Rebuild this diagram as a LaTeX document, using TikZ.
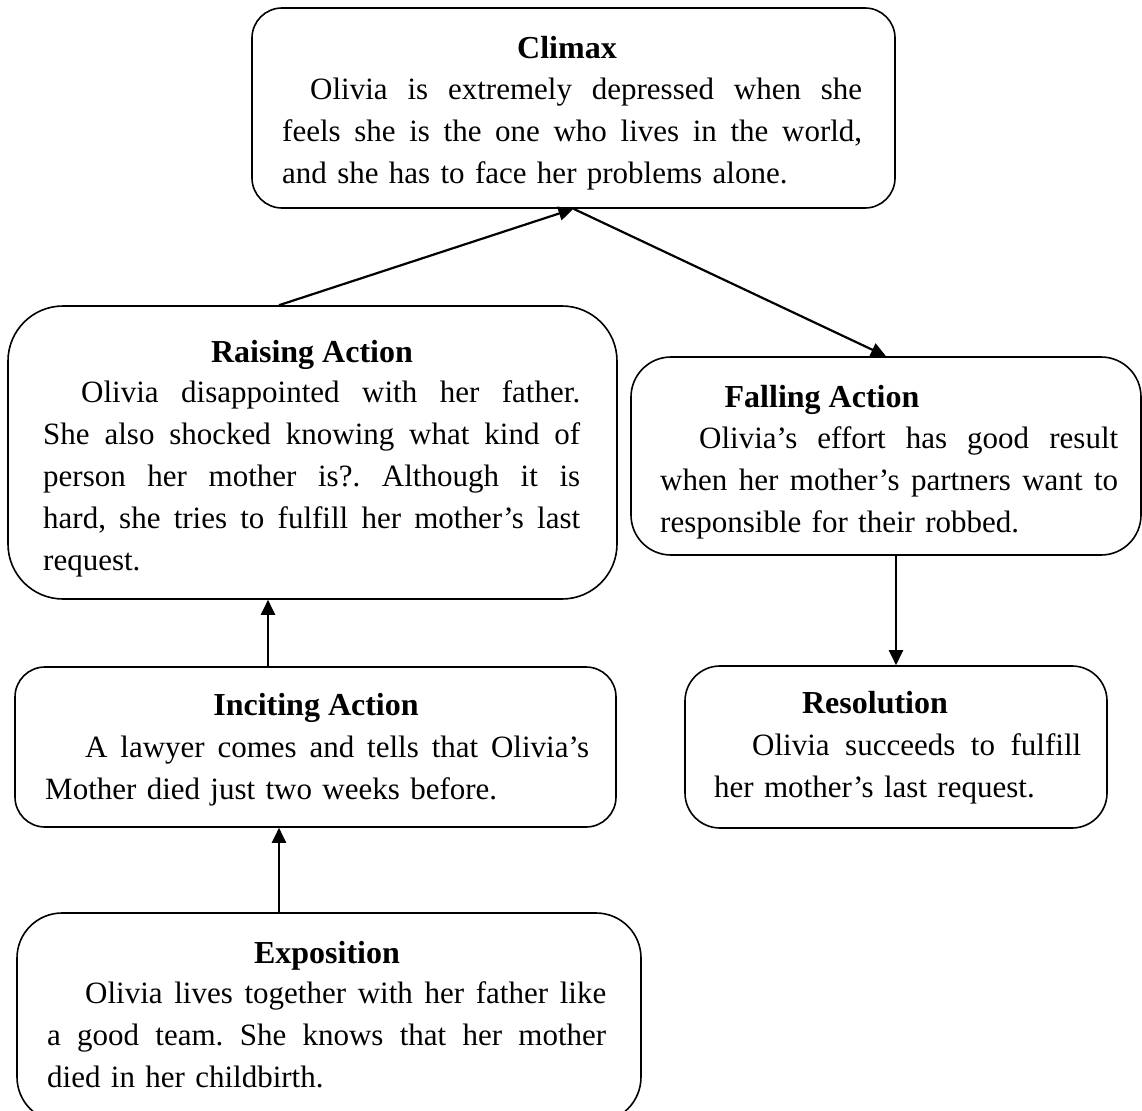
\documentclass[tikz,border=0pt]{standalone}
\usepackage{fontspec}
\setmainfont{Liberation Serif}
\usetikzlibrary{arrows.meta}
\newcommand{\fl}[2]{\leavevmode\hbox to #1{\spaceskip=0.25em plus 2em minus 0.05em\relax #2}}
\begin{document}
\begin{tikzpicture}[x=1pt,y=-1pt,
  box/.style={draw, line width=1.6pt, rounded corners=#1, inner sep=0pt},
  box/.default=35pt,
  ttl/.style={anchor=base, inner sep=0pt, font=\bfseries\fontsize{32}{42}\selectfont},
  body/.style={anchor=base west, inner sep=0pt, align=left, text width=#1, font=\frenchspacing\fontsize{31}{42}\selectfont},
  arr/.style={line width=2.2pt, -{Triangle[length=15pt,width=14pt]}}
]
\useasboundingbox (0,0) rectangle (1142,1110);

% boxes
\node[box=30pt, minimum width=643pt, minimum height=200pt] (climax) at (573.5,108) {};
\node[box=55pt, minimum width=609pt, minimum height=293pt] (raising) at (312.5,452.5) {};
\node[box=40pt, minimum width=510pt, minimum height=198pt] (falling) at (886,456) {};
\node[box=30pt, minimum width=601pt, minimum height=160pt] (inciting) at (315.5,747) {};
\node[box=35pt, minimum width=422pt, minimum height=162pt] (resolution) at (896,747) {};
\node[box=45pt, minimum width=624pt, minimum height=209pt] (expo) at (329,1017.5) {};

% texts
\node[ttl] (climaxT) at (567,59) {Climax};
\node[body=585pt] (climaxB) at (282,100) {\fl{580pt}{\hspace*{28pt}Olivia is extremely depressed when she}\\
\fl{580pt}{feels she is the one who lives in the world,}\\
and she has to face her problems alone.};

\node[ttl] (raisingT) at (312,362) {Raising Action};
\node[body=540pt] (raisingB) at (43,402) {\fl{537pt}{\hspace*{38pt}Olivia disappointed with her father.}\\
\fl{537pt}{She also shocked knowing what kind of}\\
\fl{537pt}{person her mother is?. Although it is}\\
\fl{537pt}{hard, she tries to fulfill her mother’s last}\\
request.};

\node[ttl] (fallingT) at (822,407) {Falling Action};
\node[body=462pt] (fallingB) at (660,448) {\fl{458pt}{\hspace*{39pt}Olivia’s effort has good result}\\
\fl{458pt}{when her mother’s partners want to}\\
responsible for their robbed.};

\node[ttl] (incitingT) at (316,715) {Inciting Action};
\node[body=548pt] (incitingB) at (45,757) {\fl{544pt}{\hspace*{40pt}A lawyer comes and tells that Olivia’s}\\
Mother died just two weeks before.};

\node[ttl] (resolutionT) at (875,713) {Resolution};
\node[body=370pt] (resolutionB) at (714,755) {\fl{367pt}{\hspace*{38pt}Olivia succeeds to fulfill}\\
her mother’s last request.};

\node[ttl] (expoT) at (327,963) {Exposition};
\node[body=562pt] (expoB) at (47,1003) {\fl{559pt}{\hspace*{38pt}Olivia lives together with her father like}\\
\fl{559pt}{a good team. She knows that her mother}\\
died in her childbirth.};

% connectors
\draw[arr] ([xshift=-33.5pt]raising.north) -- (climax.south);
\draw[arr] (climax.south) -- (falling.north);
\draw[arr] (falling.south -| resolution.north) -- (resolution.north);
\draw[arr] ([xshift=-47.5pt]inciting.north) -- ([xshift=-47.5pt]inciting.north |- raising.south);
\draw[arr] ([xshift=-50pt]expo.north) -- ([xshift=-50pt]expo.north |- inciting.south);
\end{tikzpicture}
\end{document}
